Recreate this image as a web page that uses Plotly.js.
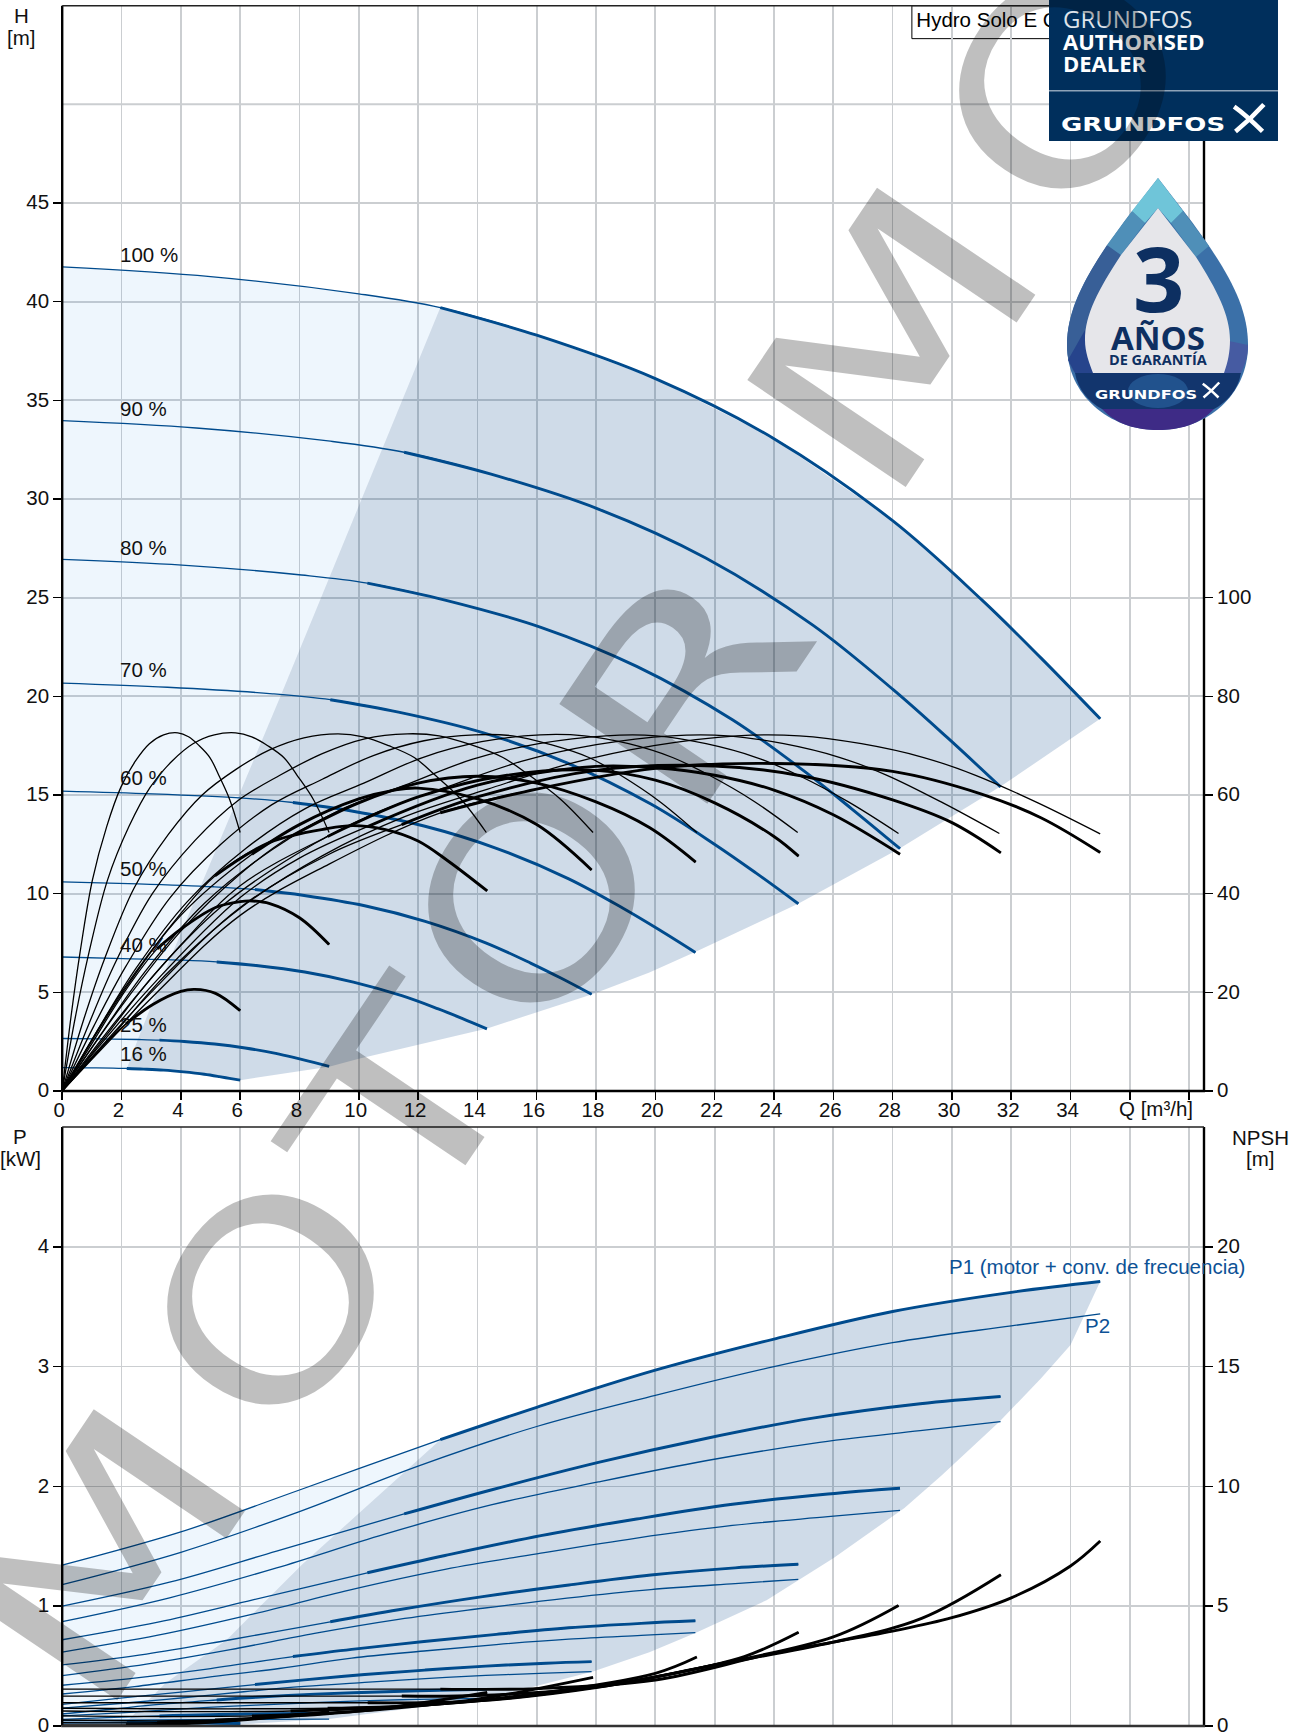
<!DOCTYPE html>
<html><head><meta charset="utf-8">
<script src="https://cdn.plot.ly/plotly-3.0.1.min.js"></script>
<style>html,body{margin:0;padding:0;background:#fff}</style></head>
<body><div id="g" style="width:1303px;height:1732px"></div>
<script>
// ---- categories
const speedLabels = ["100 %","90 %","80 %","70 %","60 %","50 %","40 %","25 %","16 %"];
const thickStart  = [12.75,11.45,10.25,8.95,7.7,6.4,5.15,3.2,2.15];

// ---- Q-H curves per speed
const hQ100=[0,5,10,12.75,16,20,24,28,31,33,35];
const hV100=[41.76,41.27,40.4,39.7,38.3,36.1,33.06,28.9,24.9,21.95,18.86];
const hQ90=[0,4.52,9.04,11.53,14.46,18.08,21.7,25.31,28.02,29.83,31.64];
const hV90=[33.97,33.6,32.93,32.37,31.26,29.49,27.01,23.61,20.34,17.93,15.41];
const hQ80=[0,4.04,8.07,10.29,12.91,16.14,19.37,22.6,25.02,26.63,28.25];
const hV80=[26.94,26.65,26.15,25.74,24.88,23.5,21.52,18.81,16.21,14.29,12.28];
const hQ70=[0,3.55,7.09,9.04,11.34,14.18,17.02,19.85,21.98,23.4,24.82];
const hV70=[20.67,20.46,20.13,19.83,19.2,18.16,16.63,14.54,12.52,11.04,9.49];
const hQ60=[0,3.05,6.1,7.78,9.76,12.2,14.64,17.08,18.91,20.13,21.35];
const hV60=[15.2,15.06,14.84,14.62,14.19,13.43,12.3,10.75,9.26,8.17,7.02];
const hQ50=[0,2.55,5.1,6.5,8.16,10.2,12.24,14.28,15.81,16.83,17.85];
const hV50=[10.6,10.5,10.35,10.21,9.91,9.39,8.6,7.51,6.47,5.71,4.9];
const hQ40=[0,2.05,4.09,5.21,6.54,8.18,9.82,11.45,12.68,13.5,14.32];
const hV40=[6.79,6.71,6.63,6.54,6.36,6.03,5.52,4.83,4.16,3.67,3.15];
const hQ25=[0,1.29,2.57,3.28,4.11,5.14,6.17,7.2,7.97,8.48,9];
const hV25=[2.66,2.64,2.61,2.58,2.51,2.38,2.18,1.91,1.64,1.45,1.245];
const hQ16=[0,.86,1.71,2.18,2.74,3.42,4.1,4.79,5.3,5.64,6];
const hV16=[1.18,1.17,1.16,1.14,1.11,1.06,.97,.85,.73,.64,.55];

// ---- efficiency arcs (thin), read on the H scale
const tQ6 =[0,.3,.6,1.02,1.5,1.98,2.46,2.94,3.42,3.9,4.26,4.62,4.98,5.28,5.64,6];
const tV6 =[0,3.8,7,10.7,13.4,15.4,16.7,17.6,18.05,18.15,17.95,17.5,16.9,16,14.8,13.1];
const tQ9 =[0,.45,.9,1.53,2.25,2.97,3.69,4.41,5.13,5.85,6.39,6.93,7.47,7.92,8.46,9];
const tV9 =[0,3.8,7,10.7,13.4,15.4,16.7,17.6,18.05,18.15,17.95,17.5,16.9,16,14.8,13.1];
const tQ14=[0,.72,1.43,2.43,3.58,4.72,5.86,7.01,8.15,9.3,10.15,11.01,11.87,12.58,13.44,14.3];
const tV14=[0,3.6,6.7,10.3,13,15,16.3,17.3,17.9,18.1,17.95,17.5,16.9,16,14.8,13.1];
const tQ18=[0,.9,1.79,3.04,4.48,5.91,7.34,8.77,10.2,11.64,12.71,13.78,14.86,15.75,16.83,17.9];
const tV18=[0,3.4,6.5,10,12.7,14.7,16,17.1,17.85,18.1,18,17.55,16.9,16,14.75,13.1];
const tQ21=[0,1.07,2.14,3.64,5.35,7.06,8.77,10.49,12.2,13.91,15.19,16.48,17.76,18.83,20.12,21.4];
const tV21=[0,3.3,6.3,9.8,12.5,14.5,15.8,17,17.75,18.05,18,17.55,16.9,16,14.7,13.1];
const tQ25=[0,1.24,2.48,4.22,6.2,8.18,10.17,12.15,14.14,16.12,17.61,19.1,20.58,21.82,23.31,24.8];
const tV25=[0,3.2,6.2,9.6,12.3,14.3,15.6,16.9,17.7,18.05,18,17.6,16.9,16,14.7,13.1];
const tQ28=[0,1.41,2.82,4.79,7.05,9.31,11.56,13.82,16.07,18.33,20.02,21.71,23.41,24.82,26.51,28.2];
const tV28=[0,3.1,6.1,9.5,12.2,14.2,15.5,16.8,17.6,18,18,17.6,16.9,16,14.65,13.05];
const tQ32=[0,1.58,3.16,5.37,7.9,10.43,12.96,15.48,18.01,20.54,22.44,24.33,26.23,27.81,29.7,31.6];
const tV32=[0,3,6,9.35,12,14,15.4,16.7,17.55,18,18,17.6,16.9,16,14.6,13.05];
const tQ35=[0,1.75,3.5,5.95,8.75,11.55,14.35,17.15,19.95,22.75,24.85,26.95,29.05,30.8,32.9,35];
const tV35=[0,2.9,5.9,9.2,11.9,13.9,15.3,16.6,17.5,18,18,17.6,16.9,16,14.6,13.03];

// ---- total efficiency arcs (thick part after thickStart)
const kQ35=[0,3,6,9,12.75,16,20,24,28,31,33,35];
const kV35=[0,4.7,8.9,11.5,14.1,15.3,16.35,16.6,16.2,15.05,13.85,12.09];
const kQ32=[0,3,6,9,11.45,14,18,22,25,28,30,31.65];
const kV32=[0,5,9.3,12,13.5,14.9,16.25,16.47,15.95,14.75,13.6,12.07];
const kQ28=[0,3,6,8,10.3,14,18,20,22,24,26,28.25];
const kV28=[0,5.3,9.8,11.8,13.4,15.5,16.45,16.38,16,15.25,14,12];
const kQ25=[0,2,4,6,8.95,12,15,18,20,22,24,24.83];
const kV25=[0,3.9,7.4,10.4,12.9,14.9,16,16.25,15.75,14.6,12.9,11.9];
const kQ21=[0,2,4,6,7.7,10,12,14,16,18,19.8,21.36];
const kV21=[0,4.3,8.1,11,12.9,14.6,15.6,15.95,15.6,14.65,13.35,11.6];
const kQ18=[0,2,4,6.4,8,10,11.2,12,14,16,17.85];
const kV18=[0,4.9,8.9,12,13.5,14.8,15.25,15.35,14.8,13.5,11.2];
const kQ14=[0,2,4,5.15,7,8.94,9.8,10.9,12,13,14.33];
const kV14=[0,5,9,10.9,12.6,13.3,13.45,13.25,12.67,11.67,10.14];
const kQ9 =[0,1,2,3.2,4,5.17,6,6.42,7,8,9];
const kV9 =[0,2.4,4.8,7.2,8.2,9.3,9.6,9.63,9.5,8.78,7.42];
const kQ6 =[0,1,2.15,3.07,4,4.47,5.17,6];
const kV6 =[0,1.7,3.4,4.4,5.05,5.15,4.95,4.07];

// ---- P1 curves
const p1Q100=[0,4,8,12.75,16,20,24,28,32,35];
const p1V100=[1.343,1.62,1.97,2.39,2.66,2.97,3.23,3.46,3.62,3.71];
const p1Q90=[0,3.62,7.23,11.53,14.46,18.08,21.7,25.31,28.93,31.64];
const p1V90=[1,1.2,1.46,1.77,1.97,2.2,2.4,2.57,2.69,2.75];
const p1Q80=[0,3.23,6.46,10.29,12.91,16.14,19.37,22.6,25.82,28.25];
const p1V80=[.72,.867,1.054,1.279,1.423,1.589,1.728,1.851,1.937,1.985];
const p1Q70=[0,2.84,5.67,9.04,11.34,14.18,17.02,19.85,22.69,24.82];
const p1V70=[.51,.6,.72,.87,.97,1.08,1.175,1.26,1.32,1.35];
const p1Q60=[0,2.44,4.88,7.78,9.76,12.2,14.64,17.08,19.52,21.35];
const p1V60=[.34,.4,.475,.58,.64,.705,.765,.82,.857,.878];
const p1Q50=[0,2.04,4.08,6.5,8.16,10.2,12.24,14.28,16.32,17.85];
const p1V50=[.18,.235,.285,.346,.385,.43,.467,.5,.524,.537];
const p1Q40=[0,1.64,3.27,5.21,6.54,8.18,9.82,11.45,13.09,14.32];
const p1V40=[.1,.14,.18,.217,.24,.262,.277,.29,.3,.306];
const p1Q25=[0,1.5,3.28,6.17,9];
const p1V25=[.055,.07,.084,.1,.106];
const p1Q16=[0,2.18,4,6];
const p1V16=[.03,.032,.03,.022];

// ---- P2 curves (thin only)
const p2Q100=[0,4,8,12,16,20,24,28,32,35];
const p2V100=[1.18,1.45,1.79,2.17,2.5,2.76,3,3.2,3.34,3.44];
const p2Q90=[0,3.62,7.23,10.85,14.46,18.08,21.7,25.31,28.93,31.64];
const p2V90=[.871,1.07,1.32,1.6,1.845,2.037,2.214,2.36,2.465,2.54];
const p2Q80=[0,3.23,6.46,9.68,12.91,16.14,19.37,22.6,25.82,28.25];
const p2V80=[.617,.758,.936,1.135,1.308,1.443,1.569,1.674,1.747,1.8];
const p2Q70=[0,2.84,5.67,8.51,11.34,14.18,17.02,19.85,22.69,24.82];
const p2V70=[.42,.516,.637,.773,.89,.983,1.068,1.139,1.189,1.224];
const p2Q60=[0,2.44,4.88,7.32,9.76,12.2,14.64,17.08,19.52,21.35];
const p2V60=[.267,.329,.406,.48,.567,.626,.68,.725,.757,.78];
const p2Q50=[0,2.04,4.08,6.12,8.16,10.2,12.24,14.28,16.32,17.85];
const p2V50=[.15,.19,.236,.286,.33,.364,.396,.422,.441,.454];
const p2Q40=[0,1.64,3.27,4.91,6.54,8.18,9.82,11.45,13.09,14.32];
const p2V40=[.085,.105,.13,.155,.175,.192,.207,.219,.226,.231];
const p2Q25=[0,3,6,9];
const p2V25=[.045,.05,.055,.058];
const p2Q16=[0,2,4,6];
const p2V16=[.025,.026,.02,.013];

// ---- NPSH curves
const nQ35=[0,12.75,16,20,24,28,30,32,34,35];
const nV35=[1.54,1.54,1.56,1.92,3.04,3.96,4.52,5.35,6.68,7.72];
const nQ32=[0,11.45,14,18,22,26,29,31.65];
const nV32=[1.25,1.25,1.27,1.62,2.55,3.5,4.5,6.31];
const nQ28=[0,10.3,14,18,22,26,28.2];
const nV28=[.97,.97,1.05,1.6,2.55,3.72,5.03];
const nQ25=[0,8.95,12,16,20,23,24.83];
const nV25=[.74,.74,.86,1.3,2.05,2.9,3.91];
const nQ21=[0,7.7,12,16,20,21.4];
const nV21=[.626,.626,.85,1.35,2.2,2.88];
const nQ18=[0,6.4,10,14,17.9];
const nV18=[.42,.42,.62,1.12,2.03];
const nQ14=[0,5.15,10,14.33];
const nV14=[.25,.25,.62,1.4];
const nQ9=[0,3.2,6,9];
const nV9=[.14,.14,.25,.6];
const nQ6=[0,2.15,4,6];
const nV6=[.05,.05,.09,.25];

// ---- operating-range borders
const edgeHQ=[12.75,10.78,8.7,7.36,3.47,2.57,2.18];
const edgeHV=[39.7,32.5,24.9,20,6.1,2.68,1.14];
const lowHQ=[6,9,10,14.33,17.9,19.8,21.36,24.83,28.25,31.65,35];
const lowHV=[.55,1.23,1.63,3.17,4.92,6,7.06,9.5,12.3,15.44,18.86];
const edgePQ=[12.75,8.1,5.55,3.5,2.15];
const edgePV=[2.39,1.35,.72,.36,.032];
const lowPQ=[6,9,14.35,17.9,19.8,21.35,23.75,26,28.4,29.65,31.6,33,34,35];
const lowPV=[.013,.058,.231,.455,.615,.776,1.05,1.4,1.82,2.09,2.54,2.9,3.18,3.71];

// ---- tick labels
const xTickVals=[0,2,4,6,8,10,12,14,16,18,20,22,24,26,28,30,32,34,36,38];
const xTickText=["0","2","4","6","8","10","12","14","16","18","20","22","24","26","28","30","32","34","",""];
const hTickVals=[0,5,10,15,20,25,30,35,40,45];
const etaTickVals=[0,20,40,60,80,100];
const pTickVals=[0,1,2,3,4];
const npshTickVals=[0,5,10,15,20];

// ---- styles
const W=1303,H=1732, BLUE='#004b8d', FONT='"Liberation Sans", Arial, sans-serif', TS=20.5;
const L={x0:62.2,x1:1204,t0:5.7,b0:1091,t1:1127,b1:1726};
const px=v=>v/W, py=v=>1-v/H;

const traces=[];
function fillPoly(x,y,color,ax,ay){traces.push({x,y,xaxis:ax,yaxis:ay,mode:'none',fill:'toself',fillcolor:color,hoverinfo:'skip'});}
function line(x,y,color,w,ax,ay){traces.push({x,y,xaxis:ax,yaxis:ay,mode:'lines',line:{color,width:w,shape:'spline',smoothing:1},hoverinfo:'skip'});}
function curve(q,v,start,color,ax,ay){
  line(q,v,color,1.3,ax,ay);
  if(start!==null){
    const i=q.findIndex(a=>a>=start);
    line(q.slice(i),v.slice(i),color,2.9,ax,ay);
  }
}
const DARK='rgba(2,65,134,0.19)', LIGHT='rgba(42,142,230,0.08)';
const upTo=(q,v,s)=>{const i=q.findIndex(a=>a>=s);return [q.slice(0,i+1),v.slice(0,i+1)];};
const from=(q,v,s)=>{const i=q.findIndex(a=>a>=s);return [q.slice(i),v.slice(i)];};

// fills upper
{
 const [a,b]=upTo(hQ100,hV100,12.75), [c,d]=upTo(hQ16,hV16,2.15);
 fillPoly([...a,...edgeHQ,...c.slice().reverse()],[...b,...edgeHV,...d.slice().reverse()],LIGHT,'x','y');
 const [e,f]=from(hQ100,hV100,12.75), [g,h]=from(hQ16,hV16,2.15);
 fillPoly([...e,...lowHQ.slice().reverse(),...g.slice().reverse(),...edgeHQ.slice().reverse()],
          [...f,...lowHV.slice().reverse(),...h.slice().reverse(),...edgeHV.slice().reverse()],DARK,'x','y');
}
// fills lower
{
 const [a,b]=upTo(p1Q100,p1V100,12.75);
 fillPoly([...a,...edgePQ,2,0],[...b,...edgePV,.026,.025],LIGHT,'x2','y3');
 const [e,f]=from(p1Q100,p1V100,12.75);
 fillPoly([...e,...lowPQ.slice().reverse(),4,2.15,...edgePQ.slice().reverse()],
          [...f,...lowPV.slice().reverse(),.02,.03,...edgePV.slice().reverse()],DARK,'x2','y3');
}
// blue Q-H
[[hQ100,hV100],[hQ90,hV90],[hQ80,hV80],[hQ70,hV70],[hQ60,hV60],[hQ50,hV50],[hQ40,hV40],[hQ25,hV25],[hQ16,hV16]]
 .forEach((c,i)=>curve(c[0],c[1],thickStart[i],BLUE,'x','y'));
// thin arcs
[[tQ6,tV6],[tQ9,tV9],[tQ14,tV14],[tQ18,tV18],[tQ21,tV21],[tQ25,tV25],[tQ28,tV28],[tQ32,tV32],[tQ35,tV35]]
 .forEach(c=>curve(c[0],c[1],null,'#000','x','y'));
// thick arcs
[[kQ35,kV35],[kQ32,kV32],[kQ28,kV28],[kQ25,kV25],[kQ21,kV21],[kQ18,kV18],[kQ14,kV14],[kQ9,kV9],[kQ6,kV6]]
 .forEach((c,i)=>curve(c[0],c[1],thickStart[i],'#000','x','y'));
// box text sits below the dealer plate
traces.push({x:[28.8],y:[54.2],xaxis:'x',yaxis:'y',mode:'text',text:['Hydro Solo E CR'],textposition:'middle right',
  textfont:{family:FONT,size:TS,color:'#000'},hoverinfo:'skip',cliponaxis:false});
// P curves
[[p2Q100,p2V100],[p2Q90,p2V90],[p2Q80,p2V80],[p2Q70,p2V70],[p2Q60,p2V60],[p2Q50,p2V50],[p2Q40,p2V40],[p2Q25,p2V25],[p2Q16,p2V16]]
 .forEach(c=>curve(c[0],c[1],null,BLUE,'x2','y3'));
[[p1Q100,p1V100],[p1Q90,p1V90],[p1Q80,p1V80],[p1Q70,p1V70],[p1Q60,p1V60],[p1Q50,p1V50],[p1Q40,p1V40],[p1Q25,p1V25],[p1Q16,p1V16]]
 .forEach((c,i)=>curve(c[0],c[1],thickStart[i],BLUE,'x2','y3'));
// NPSH
[[nQ35,nV35],[nQ32,nV32],[nQ28,nV28],[nQ25,nV25],[nQ21,nV21],[nQ18,nV18],[nQ14,nV14],[nQ9,nV9],[nQ6,nV6]]
 .forEach((c,i)=>curve(c[0],c[1],thickStart[i],'#000','x2','y4'));
// keep the efficiency axis registered
traces.push({x:[null],y:[null],xaxis:'x',yaxis:'y2',mode:'lines',hoverinfo:'skip'});

// ---- axes
const tickfont={family:FONT,size:TS,color:'#111'};
const GRID='#cbced1';
const xdom=[px(L.x0),px(L.x1)];
const yBase={tickmode:'array',ticks:'outside',ticklen:8,tickwidth:1.5,tickcolor:'#000',tickfont,zeroline:false,showline:false,ticklabelshift:-1,ticklabeloverflow:'allow'};
const layout={
 width:W,height:H,margin:{l:0,r:0,t:0,b:0},paper_bgcolor:'#fff',plot_bgcolor:'#fff',showlegend:false,hovermode:false,
 xaxis:{domain:xdom,range:[0,38.5],anchor:'y',tickmode:'array',tickvals:xTickVals,ticktext:xTickText,ticks:'outside',ticklen:8,tickwidth:1.5,tickcolor:'#000',
   tickfont,ticklabelshift:-3,ticklabelstandoff:-8,showgrid:true,gridcolor:GRID,gridwidth:1.8,zeroline:false,showline:false,tickangle:0},
 yaxis:Object.assign({},yBase,{domain:[py(L.b0),py(L.t0)],range:[0,55],anchor:'x',tickvals:hTickVals,showgrid:true,gridcolor:GRID,gridwidth:2}),
 yaxis2:Object.assign({},yBase,{overlaying:'y',side:'right',anchor:'x',range:[0,220],tickvals:etaTickVals,showgrid:false}),
 xaxis2:{domain:xdom,range:[0,38.5],anchor:'y3',tickmode:'array',tickvals:xTickVals,showticklabels:false,ticks:'',showgrid:true,gridcolor:GRID,gridwidth:1.8,
   zeroline:false,showline:false},
 yaxis3:Object.assign({},yBase,{domain:[py(L.b1),py(L.t1)],range:[0,5],anchor:'x2',tickvals:pTickVals,showgrid:true,gridcolor:GRID,gridwidth:1.8}),
 yaxis4:Object.assign({},yBase,{overlaying:'y3',side:'right',anchor:'x2',range:[0,25],tickvals:npshTickVals,showgrid:false}),
 shapes:[],annotations:[]
};

// ---- decoration helpers (pixel positions to paper)
let DX=0;
function path(d,fill,extra){
  const s=d.map(c=>{let o=c[0];for(let i=1;i<c.length;i+=2)o+=' '+px(c[i]+DX).toFixed(5)+','+py(c[i+1]).toFixed(5);return o;}).join(' ');
  layout.shapes.push(Object.assign({type:'path',xref:'paper',yref:'paper',path:s,fillcolor:fill,line:{width:0},layer:'above'},extra||{}));
}
function note(text,x,y,size,color,opt){
  layout.annotations.push(Object.assign({xref:'paper',yref:'paper',x:px(x),y:py(y-1),text,showarrow:false,xanchor:'center',yanchor:'middle',
    font:{family:FONT,size,color},borderpad:0},opt||{}));
}
function frameLine(x0,y0,x1,y1,color,w){
  layout.shapes.push({type:'line',xref:'paper',yref:'paper',x0:px(x0),y0:py(y0),x1:px(x1),y1:py(y1),line:{color,width:w},layer:'above'});
}
// the unlabelled H = 50 grid line
layout.shapes.push({type:'line',xref:'paper',yref:'y',x0:xdom[0],x1:xdom[1],y0:50,y1:50,line:{color:GRID,width:2},layer:'below'});
// white title box
layout.shapes.push({type:'rect',xref:'x',yref:'y',x0:28.65,x1:33.5,y0:53.33,y1:55,fillcolor:'#fff',line:{color:'#000',width:1},layer:'below'});
// frames
frameLine(L.x0,L.t0,L.x0,L.b0,'#000',2.4); frameLine(L.x1,L.t0,L.x1,L.b0,'#000',2.4);
frameLine(L.x0-1,L.b0,L.x1+1,L.b0,'#000',2.4); frameLine(L.x0,L.t0,L.x1,L.t0,'#222',1.6);
frameLine(L.x0,L.t1,L.x0,L.b1,'#000',2.4); frameLine(L.x1,L.t1,L.x1,L.b1,'#000',2.4);
frameLine(L.x0-1,L.b1,L.x1+1,L.b1,'#333',2.6); frameLine(L.x0,L.t1,L.x1,L.t1,'#222',1.6);

// dealer plate
const NAVY='#002f5c';
path([['M',1049,0],['L',1278,0],['L',1278,141],['L',1049,141],['Z']],NAVY);
path([['M',1049,90],['L',1278,90],['L',1278,91.5],['L',1049,91.5],['Z']],'#8ea3b8');
function logoX(cx,cy,s,col){
  layout.shapes.push({type:'path',xref:'paper',yref:'paper',layer:'above',fillcolor:'rgba(0,0,0,0)',line:{color:col,width:s*.17},
   path:`M ${px(cx-s*.55).toFixed(5)},${py(cy-s*.42).toFixed(5)} Q ${px(cx-s*.1).toFixed(5)},${py(cy-s*.1).toFixed(5)} ${px(cx+s*.5).toFixed(5)},${py(cy+s*.5).toFixed(5)}`});
  layout.shapes.push({type:'path',xref:'paper',yref:'paper',layer:'above',fillcolor:'rgba(0,0,0,0)',line:{color:col,width:s*.17},
   path:`M ${px(cx-s*.5).toFixed(5)},${py(cy+s*.5).toFixed(5)} Q ${px(cx+s*.05).toFixed(5)},${py(cy+s*.05).toFixed(5)} ${px(cx+s*.55).toFixed(5)},${py(cy-s*.5).toFixed(5)}`});
}
logoX(1249,118,27,'#fff');

// warranty drop
DX=2;
path([['M',1156,178],['L',1190,222],['C',1225,270,1246,305,1246,345],['C',1246,395,1205,430,1156,430],['C',1107,430,1065,395,1065,345],['C',1065,305,1087,270,1122,222],['Z']],'#3b70a8');
path([['M',1105,245],['C',1085,275,1065,310,1065,345],['C',1065,358,1068,368,1073,373],['L',1091,373],['L',1091,340],['L',1119,255],['Z']],'#385f97');
path([['M',1066,360],['L',1083,330],['L',1092,373],['L',1073,373],['Z']],'#26448c');
path([['M',1222,373],['L',1239,373],['C',1244,362,1246,355,1246,345],['L',1222,340],['Z']],'#465ba2');
path([['M',1130,211],['L',1143,223],['L',1119,255],['L',1105,245],['Z']],'#4f8fb8');
path([['M',1181,211],['L',1207,246],['L',1194,257],['L',1169,223],['Z']],'#4f8fb8');
path([['M',1156,178],['L',1181,211],['L',1169,223],['L',1156,208],['L',1143,223],['L',1130,211],['Z']],'#6fc5d9');
path([['M',1156,208],['L',1194,257],['C',1215,290,1228,315,1228,340],['C',1228,352,1226,362,1222,373],['L',1091,373],['C',1087,362,1083,352,1083,340],['C',1083,315,1096,290,1119,255],['Z']],'#e6e6ea');
path([['M',1100,409],['C',1115,425,1135,430,1156,430],['C',1177,430,1197,425,1212,409],['Z']],'#3e2b86');
path([['M',1073,373],['L',1239,373],['C',1236,390,1225,402,1212,409],['L',1100,409],['C',1087,402,1076,390,1073,373],['Z']],'#12356d');
layout.shapes.push({type:'circle',xref:'paper',yref:'paper',layer:'above',x0:px(1128),x1:px(1188),y0:py(408),y1:py(374),fillcolor:'rgba(70,150,215,0.3)',line:{width:0}});
DX=0;
logoX(1211,390,15,'#fff');

// percent labels
const labelY=[256,410,548,671,778,869,945,1025,1054];
speedLabels.forEach((t,i)=>note(t,118.5,labelY[i],TS,'#111',{xanchor:'left'}));
// axis names
note('H',21,16,TS,'#111'); note('[m]',21,38,TS,'#111');
note('P',20,1137,TS,'#111'); note('[kW]',20,1159,TS,'#111');
note('NPSH',1260,1138,TS,'#111'); note('[m]',1260,1159,TS,'#111');
note('Q [m³/h]',1155.5,1109,TS,'#111');
note('P1 (motor + conv. de frecuencia)',948,1267,TS,'#0d5296',{xanchor:'left'});
note('P2',1084,1326,TS,'#0d5296',{xanchor:'left'});
// plate and badge text
note('GRUNDFOS',1061.5,20,24,'#dfe4ea',{xanchor:'left',font:{family:'"Open Sans"',size:24,color:'#dfe4ea'}});
note('<b>AUTHORISED</b>',1061.5,42,22,'#fff',{xanchor:'left',font:{family:'"Open Sans"',size:22,color:'#fff'}});
note('<b>DEALER</b>',1061.5,64,22,'#fff',{xanchor:'left',font:{family:'"Open Sans"',size:22,color:'#fff'}});
note('<b>GRUNDFOS</b>',1143,125,19,'#fff',{font:{family:'"DejaVu Sans"',size:19,color:'#fff'}});
note('<b>3</b>',1158,278,90,'#0d2f61',{font:{family:'"Open Sans"',size:90,color:'#0d2f61'}});
note('<b>AÑOS</b>',1158,339,33,'#0d2f61',{font:{family:'"Open Sans"',size:33,color:'#0d2f61'}});
note('<b>DE GARANTÍA</b>',1158,361,14.5,'#0d2f61',{font:{family:'"Open Sans"',size:14.5,color:'#0d2f61'}});
note('<b>GRUNDFOS</b>',1146,395,13,'#fff',{font:{family:'"DejaVu Sans"',size:13,color:'#fff'}});

// watermark, one real letter each, stretched wide after drawing
const WMC='rgba(0,0,0,0.25)';
const wmLetters=['M','O','T','O','R','M','O'];
const wmX=[109,274,406,535,685,895,1066];
const wmY=[1557,1302,1105,900,685,340,86];
const wmSize=[250,262,240,262,245,262,262];
const wmWide=[295,242,210,242,240,300,242];
wmLetters.forEach((c,i)=>note(c,wmX[i],wmY[i]+1,wmSize[i],WMC,{textangle:-56,font:{family:'"DejaVu Sans"',size:wmSize[i],color:WMC}}));

Plotly.newPlot('g',traces,layout,{displayModeBar:false,staticPlot:true}).then(gd=>{
  const all=[...gd.querySelectorAll('.annotation-text')];
  const wm=all.filter(t=>parseFloat(t.style.fontSize)>=240);
  wm.forEach((t,i)=>{t.setAttribute('textLength',wmWide[i]);t.setAttribute('lengthAdjust','spacingAndGlyphs');});
  const lg=all.filter(t=>t.textContent==='GRUNDFOS'&&t.style.fontFamily.indexOf('DejaVu')>=0);
  lg.forEach(t=>{
    const big=parseFloat(t.style.fontSize)>15;
    t.querySelectorAll('tspan').forEach(s=>{s.setAttribute('textLength',big?164:102);s.setAttribute('lengthAdjust','spacingAndGlyphs');});
  });
});
</script></body></html>
